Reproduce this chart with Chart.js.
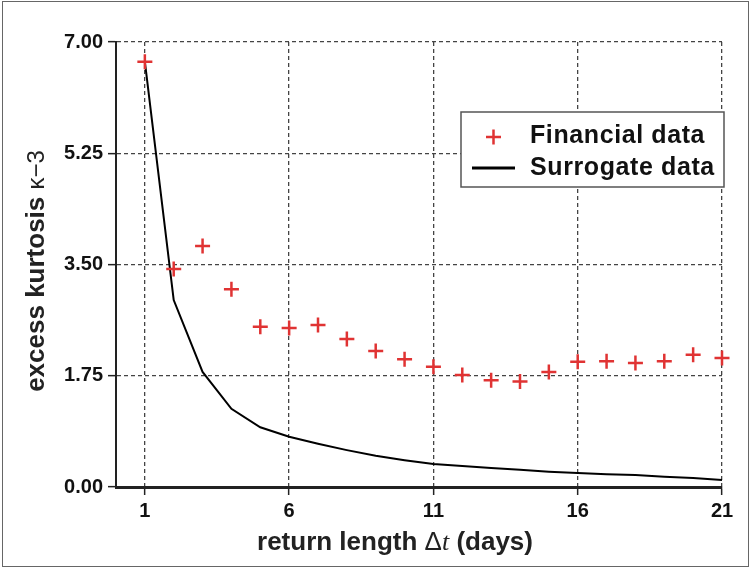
<!DOCTYPE html>
<html>
<head>
<meta charset="utf-8">
<script src="https://cdn.jsdelivr.net/npm/chart.js@4/dist/chart.umd.min.js"></script>
<style>
    html, body { margin: 0; padding: 0; background: #fff; }
    #wrap { width: 751px; height: 568px; }
</style>
</head>
<body>
<div id="wrap"><canvas id="chart" width="751" height="568"></canvas></div>
<script>
// return length in days
const days = [1, 2, 3, 4, 5, 6, 7, 8, 9, 10, 11, 12, 13, 14, 15, 16, 17, 18, 19, 20, 21];
const financialKurt = [6.69, 3.43, 3.79, 3.11, 2.52, 2.50, 2.55, 2.33, 2.14, 2.01, 1.89,
    1.76, 1.68, 1.66, 1.81, 1.97, 1.98, 1.95, 1.98, 2.08, 2.03];
const surrogateKurt = [6.69, 2.94, 1.81, 1.23, 0.94, 0.79, 0.68, 0.58, 0.49, 0.42, 0.36,
    0.33, 0.30, 0.27, 0.24, 0.22, 0.20, 0.19, 0.16, 0.14, 0.11];
const xTicks = [1, 6, 11, 16, 21];
const yTicks = [0, 1.75, 3.5, 5.25, 7];

const FONT = '"Liberation Sans", Arial, Helvetica, sans-serif';
const RED = '#e03333';

const toPoints = (ys) => days.map((d, i) => ({ x: d, y: ys[i] }));

// titles, legend and outer frame drawn by hand (mixed italic / bold text)
const decorations = {
    id: 'decorations',
    afterDraw(chart) {
        const ctx = chart.ctx;
        ctx.save();

        // outer frame
        ctx.strokeStyle = '#666';
        ctx.lineWidth = 1;
        ctx.strokeRect(2.5, 1.5, 746, 565);

        // x title
        const parts = [
            ['return length ', 'bold 26px ' + FONT],
            ['\u0394', '26px ' + FONT],
            ['t', 'italic 26px "Liberation Serif", serif'],
            [' (days)', 'bold 26px ' + FONT]
        ];
        let total = 0;
        parts.forEach(p => { ctx.font = p[1]; total += ctx.measureText(p[0]).width; });
        let x = 395 - total / 2;
        ctx.fillStyle = '#222';
        ctx.textBaseline = 'alphabetic';
        ctx.textAlign = 'left';
        parts.forEach(p => {
            ctx.font = p[1];
            ctx.fillText(p[0], x, 550);
            x += ctx.measureText(p[0]).width;
        });

        // y title
        ctx.save();
        ctx.translate(44, 271);
        ctx.rotate(-Math.PI / 2);
        const yparts = [
            ['excess kurtosis ', 'bold 26px ' + FONT],
            ['\u03BA\u22123', '24px ' + FONT]
        ];
        total = 0;
        yparts.forEach(p => { ctx.font = p[1]; total += ctx.measureText(p[0]).width; });
        x = -total / 2;
        yparts.forEach(p => {
            ctx.font = p[1];
            ctx.fillText(p[0], x, 0);
            x += ctx.measureText(p[0]).width;
        });
        ctx.restore();

        // legend
        ctx.fillStyle = '#fff';
        ctx.fillRect(461, 112, 263, 75);
        ctx.strokeStyle = '#555';
        ctx.lineWidth = 1.5;
        ctx.strokeRect(461, 112, 263, 75);

        ctx.strokeStyle = RED;
        ctx.lineWidth = 2.5;
        ctx.beginPath();
        ctx.moveTo(486, 137); ctx.lineTo(501, 137);
        ctx.moveTo(493.5, 129.5); ctx.lineTo(493.5, 144.5);
        ctx.stroke();

        ctx.strokeStyle = '#000';
        ctx.lineWidth = 3;
        ctx.beginPath();
        ctx.moveTo(472, 168); ctx.lineTo(515, 168);
        ctx.stroke();

        ctx.fillStyle = '#111';
        ctx.font = 'bold 25px ' + FONT;
        ctx.letterSpacing = '0.6px';
        const labels = chart.data.datasets.map(ds => ds.label);
        ctx.fillText(labels[0], 530, 143);
        ctx.fillText(labels[1], 530, 175);
        ctx.restore();
    }
};

const gridCommon = {
    color: '#444',
    lineWidth: 1.3,
    tickLength: 8,
    tickColor: '#222',
    tickBorderDash: [],
    tickWidth: 1.5
};

new Chart(document.getElementById('chart'), {
    data: {
        datasets: [
            {
                type: 'scatter',
                label: 'Financial data',
                data: toPoints(financialKurt),
                pointStyle: 'cross',
                pointRadius: 7.5,
                pointHoverRadius: 7.5,
                borderColor: RED,
                backgroundColor: RED,
                pointBorderWidth: 2.5,
                clip: false,
                order: 0
            },
            {
                type: 'line',
                label: 'Surrogate data',
                data: toPoints(surrogateKurt),
                borderColor: '#000',
                borderWidth: 2,
                pointRadius: 0,
                tension: 0,
                fill: false,
                clip: false,
                order: 1
            }
        ]
    },
    options: {
        responsive: false,
        animation: false,
        events: [],
        layout: { padding: { top: 42, right: 29, left: 0, bottom: 0 } },
        plugins: {
            legend: { display: false },
            tooltip: { enabled: false }
        },
        scales: {
            x: {
                type: 'linear',
                min: 0,
                max: 21,
                afterBuildTicks: (scale) => {
                    scale.ticks = xTicks.map(v => ({ value: v }));
                },
                afterFit: (scale) => { scale.height = 81; },
                grid: gridCommon,
                border: { display: true, color: '#222', width: 3, dash: [4, 3] },
                ticks: {
                    padding: 4,
                    color: '#111',
                    font: { family: FONT, size: 20, weight: 'bold' },
                    maxRotation: 0,
                    callback: (v) => String(v)
                }
            },
            y: {
                min: 0,
                max: 7,
                afterBuildTicks: (scale) => {
                    scale.ticks = yTicks.map(v => ({ value: v }));
                },
                afterFit: (scale) => { scale.width = 116; },
                grid: gridCommon,
                border: { display: true, color: '#222', width: 2, dash: [4, 3] },
                ticks: {
                    padding: 5,
                    color: '#111',
                    font: { family: FONT, size: 20, weight: 'bold' },
                    callback: (v) => Number(v).toFixed(2)
                }
            }
        }
    },
    plugins: [decorations]
});
</script>
</body>
</html>
